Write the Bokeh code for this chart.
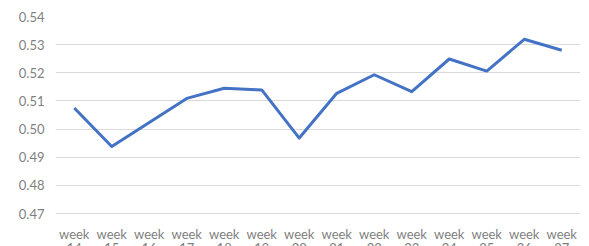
from bokeh.plotting import figure
from bokeh.models import FactorRange, Range1d, FixedTicker, PrintfTickFormatter, LabelSet, ColumnDataSource
from bokeh.core.properties import value
from bokeh.embed import file_html
from bokeh.resources import INLINE

weeks = ["14", "15", "16", "17", "18", "19", "20", "21", "22", "23", "24", "25", "26", "27"]
values = [0.5075, 0.4938, 0.5023, 0.5109, 0.5145, 0.5139, 0.4968,
          0.5127, 0.5193, 0.5133, 0.5249, 0.5206, 0.5319, 0.5280]
y_ticks = [0.47, 0.48, 0.49, 0.50, 0.51, 0.52, 0.53, 0.54]
y_min, y_max = 0.47, 0.54

factors = ["week " + w for w in weeks]

# layout: value area 197px tall, with 33px of label room below it inside the frame
plot_px = 197
label_px = 33
y_start = y_min - label_px * (y_max - y_min) / plot_px

p = figure(width=589, height=246, x_range=FactorRange(factors=factors, range_padding=0),
           y_range=Range1d(y_start, y_max), output_backend="svg", toolbar_location=None,
           min_border_left=55, min_border_right=9, min_border_top=16, min_border_bottom=0)

p.line(factors, values, line_color="#4472C4", line_width=3, line_join="round")

p.outline_line_color = None
p.background_fill_color = "white"
p.border_fill_color = "white"

p.xgrid.grid_line_color = None
p.ygrid.grid_line_color = "#d9d9d9"
p.ygrid.grid_line_width = 1

p.yaxis.ticker = FixedTicker(ticks=y_ticks)
p.yaxis.formatter = PrintfTickFormatter(format="%.2f")
p.yaxis.axis_line_color = None
p.yaxis.major_tick_line_color = None
p.yaxis.minor_tick_line_color = None
p.yaxis.major_tick_out = 0
p.yaxis.major_tick_in = 0
p.yaxis.major_label_text_font = "Lato"
p.yaxis.major_label_text_font_size = "13px"
p.yaxis.major_label_text_color = "#7f7f7f"
p.yaxis.major_label_standoff = 11

p.xaxis.visible = False

src = ColumnDataSource(dict(x=factors, y=[y_min] * len(factors),
                            w=["week"] * len(factors), t=weeks))
common = dict(source=src, x="x", y="y", text_align="center", text_baseline="alphabetic",
              text_font=value("Lato"), text_font_size=value("13px"),
              text_color=value("#7f7f7f"))
p.add_layout(LabelSet(text="w", y_offset=-25, **common))
p.add_layout(LabelSet(text="t", y_offset=-39, **common))

open("out.html", "w").write(file_html(p, INLINE))
